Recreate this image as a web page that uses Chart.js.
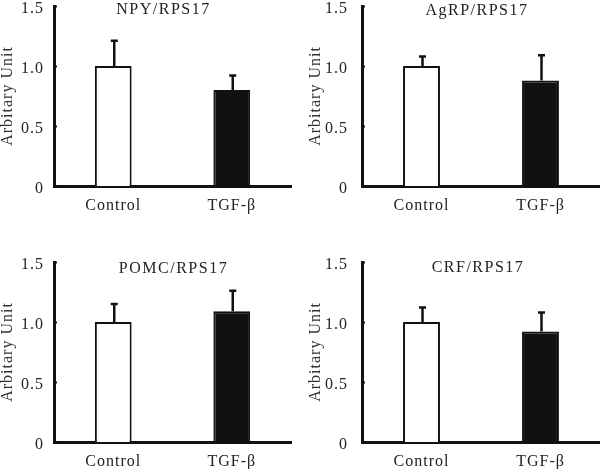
<!DOCTYPE html>
<html>
<head>
<meta charset="utf-8">
<script src="https://cdn.jsdelivr.net/npm/chart.js@4/dist/chart.umd.min.js"></script>
<style>
  body { margin: 0; background: #fff; }
  #wrap { position: relative; width: 600px; height: 469px; overflow: hidden; }
  #wrap canvas { position: absolute; }
</style>
</head>
<body>
<div id="wrap">
  <canvas id="c0"></canvas>
  <canvas id="c1"></canvas>
  <canvas id="c2"></canvas>
  <canvas id="c3"></canvas>
</div>
<script>
// data
var categories = ['Control', 'TGF-β'];
var panelTitles = ['NPY/RPS17', 'AgRP/RPS17', 'POMC/RPS17', 'CRF/RPS17'];
var controlMeans = [1.00, 1.00, 1.00, 1.00];
var tgfMeans = [0.80, 0.88, 1.09, 0.92];
var controlErr = [0.21, 0.08, 0.15, 0.12];
var tgfErr = [0.12, 0.21, 0.17, 0.16];
var yTickValues = [0, 0.5, 1.0, 1.5];
var yTitle = 'Arbitary Unit';

// where each panel sits on the page
var panels = [
  { left: 0,   top: 0,   w: 300, h: 230, padR: 9, titleY: 14, titleShift: -9, tickPad: 10 },
  { left: 308, top: 0,   w: 292, h: 230, padR: 0, titleY: 15, titleShift: -4, tickPad: 14 },
  { left: 0,   top: 256, w: 300, h: 213, padR: 9, titleY: 17, titleShift: 1,  tickPad: 10 },
  { left: 308, top: 256, w: 292, h: 213, padR: 0, titleY: 16, titleShift: -3, tickPad: 14 }
];

var FONT = "'Liberation Serif', 'DejaVu Serif', serif";
var INK = '#111';

// letter spacing so the serif looks like the wide mincho in the picture
var spacingPlugin = {
  id: 'spacing',
  beforeUpdate: function(chart) { chart.ctx.letterSpacing = '1px'; },
  beforeDraw: function(chart) { chart.ctx.letterSpacing = '1px'; }
};

// error bars (upper half only), inner tick marks and the panel caption
var extrasPlugin = {
  id: 'extras',
  afterDatasetsDraw: function(chart, args, opts) {
    var ctx = chart.ctx;
    var y = chart.scales.y;
    var meta = chart.getDatasetMeta(0);
    var vals = chart.data.datasets[0].data;
    ctx.save();
    ctx.strokeStyle = INK;
    ctx.lineWidth = 2.5;
    meta.data.forEach(function(bar, i) {
      var yTop = y.getPixelForValue(vals[i] + opts.errors[i]);
      var yBar = y.getPixelForValue(vals[i]);
      var x = bar.x + 1;
      ctx.beginPath();
      ctx.moveTo(x, yBar);
      ctx.lineTo(x, yTop);
      ctx.moveTo(x - 3.5, yTop);
      ctx.lineTo(x + 3.5, yTop);
      ctx.stroke();
    });
    // little ticks pointing inward
    ctx.lineWidth = 2;
    y.ticks.forEach(function(t) {
      var py = Math.round(y.getPixelForValue(t.value)) + 0.5;
      ctx.beginPath();
      ctx.moveTo(chart.chartArea.left, py);
      ctx.lineTo(chart.chartArea.left + 3, py);
      ctx.stroke();
    });
    // caption
    ctx.letterSpacing = '1.5px';
    ctx.fillStyle = '#222';
    ctx.font = '16px ' + FONT;
    ctx.textAlign = 'center';
    ctx.textBaseline = 'alphabetic';
    var cx = (chart.chartArea.left + chart.chartArea.right) / 2 + opts.titleShift;
    ctx.fillText(opts.title, cx, opts.titleY);
    ctx.restore();
  }
};

panels.forEach(function(p, k) {
  var cv = document.getElementById('c' + k);
  cv.width = p.w;
  cv.height = p.h;
  cv.style.left = p.left + 'px';
  cv.style.top = p.top + 'px';

  new Chart(cv, {
    type: 'bar',
    data: {
      labels: categories,
      datasets: [{
        data: [controlMeans[k], tgfMeans[k]],
        backgroundColor: ['#ffffff', '#111111'],
        borderColor: INK,
        borderWidth: 2,
        borderSkipped: 'bottom',
        barPercentage: 0.31,
        categoryPercentage: 1
      }]
    },
    options: {
      responsive: false,
      animation: false,
      layout: { padding: { top: 6, right: p.padR, left: 0, bottom: 0 } },
      plugins: {
        legend: { display: false },
        tooltip: { enabled: false },
        extras: {
          errors: [controlErr[k], tgfErr[k]],
          title: panelTitles[k],
          titleY: p.titleY,
          titleShift: p.titleShift
        }
      },
      scales: {
        x: {
          offset: true,
          grid: { display: false, drawTicks: false },
          border: { display: true, color: INK, width: 3 },
          ticks: { color: '#222', font: { family: FONT, size: 16 }, padding: 10, maxRotation: 0 },
          afterFit: function(scale) {
            scale.height = p.h - 186;
            scale.paddingLeft = 0;
            scale.paddingRight = 0;
          }
        },
        y: {
          min: 0,
          max: 1.5,
          afterBuildTicks: function(scale) {
            scale.ticks = yTickValues.map(function(v) { return { value: v }; });
          },
          grid: { display: false, drawTicks: false },
          border: { display: true, color: INK, width: 3 },
          ticks: {
            color: '#222',
            font: { family: FONT, size: 16 },
            padding: p.tickPad,
            labelOffset: 3,
            callback: function(v) { return v === 0 ? '0' : v.toFixed(1); }
          },
          title: {
            display: true,
            text: yTitle,
            color: '#333',
            font: { family: FONT, size: 16, lineHeight: 1 },
            padding: 0
          },
          afterFit: function(scale) {
            scale.width = 54;
            scale.paddingTop = 0;
            scale.paddingBottom = 0;
          }
        }
      }
    },
    plugins: [spacingPlugin, extrasPlugin]
  });
});
</script>
</body>
</html>
